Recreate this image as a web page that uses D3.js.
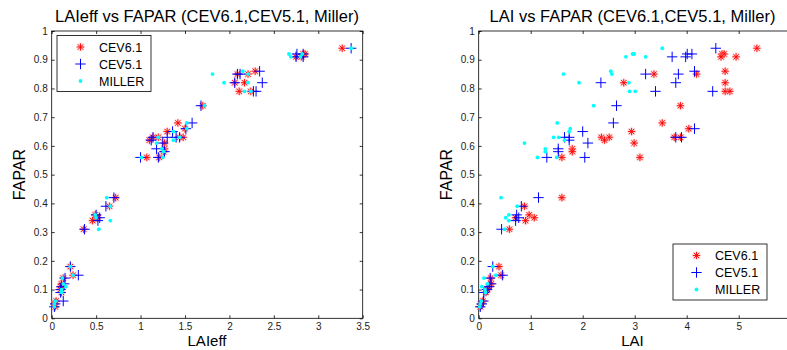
<!DOCTYPE html>
<html>
<head>
<meta charset="utf-8">
<script src="https://cdn.jsdelivr.net/npm/d3@7"></script>
<style>
  body { margin: 0; background: #fff; }
  svg { display: block; font-family: "Liberation Sans", Arial, sans-serif; }
</style>
</head>
<body>
<div id="chart"></div>
<script>
// CEV6.1 (red stars)
const faparCev61  = [0.94, 0.92, 0.92, 0.91, 0.91, 0.86, 0.85, 0.85, 0.82, 0.82, 0.79, 0.79, 0.74, 0.68, 0.66, 0.65, 0.63, 0.63, 0.63, 0.63, 0.62, 0.61, 0.59, 0.58, 0.56, 0.56, 0.42, 0.39, 0.36, 0.35, 0.35, 0.34, 0.31, 0.18, 0.15, 0.14, 0.12, 0.11, 0.10, 0.09, 0.06, 0.05, 0.04];
const laieffCev61 = [3.27, 2.83, 2.85, 2.75, 2.81, 2.29, 2.09, 2.21, 2.17, 2.06, 2.11, 2.24, 1.70, 1.42, 1.50, 1.30, 1.48, 1.44, 1.14, 1.20, 1.10, 1.27, 1.27, 1.26, 1.07, 1.21, 0.72, 0.65, 0.49, 0.52, 0.50, 0.46, 0.36, 0.21, 0.24, 0.13, 0.11, 0.10, 0.10, 0.11, 0.05, 0.03, 0.04];
const laiCev61    = [5.35, 4.68, 4.72, 4.66, 4.95, 4.74, 4.19, 3.37, 4.74, 2.79, 4.74, 4.83, 3.88, 3.53, 4.04, 2.94, 2.36, 2.51, 3.76, 3.88, 2.42, 2.99, 1.80, 1.80, 1.60, 3.10, 1.60, 0.88, 0.97, 0.71, 1.07, 0.90, 0.59, 0.39, 0.43, 0.23, 0.24, 0.19, 0.17, 0.14, 0.08, 0.04, 0.03];

// CEV5.1 (blue plus)
const faparCev51  = [0.94, 0.92, 0.92, 0.91, 0.91, 0.86, 0.85, 0.85, 0.82, 0.82, 0.79, 0.79, 0.74, 0.68, 0.66, 0.65, 0.63, 0.63, 0.63, 0.63, 0.62, 0.61, 0.59, 0.58, 0.56, 0.56, 0.42, 0.39, 0.36, 0.35, 0.34, 0.31, 0.18, 0.15, 0.14, 0.12, 0.11, 0.10, 0.09, 0.06, 0.05, 0.04];
const laieffCev51 = [3.37, 2.76, 2.83, 2.75, 2.83, 2.34, 2.09, 2.12, 2.37, 2.06, 2.27, 2.30, 1.68, 1.58, 1.51, 1.36, 1.44, 1.14, 1.40, 1.30, 1.12, 1.25, 1.18, 1.27, 1.00, 1.20, 0.70, 0.61, 0.50, 0.54, 0.52, 0.37, 0.21, 0.30, 0.15, 0.14, 0.11, 0.10, 0.10, 0.13, 0.04, 0.03];
const laiCev51    = [4.56, 4.01, 4.10, 3.72, 3.98, 4.15, 3.21, 3.84, 3.79, 2.35, 3.40, 4.50, 2.65, 2.59, 4.15, 2.00, 1.65, 1.74, 3.79, 3.90, 1.74, 2.10, 1.53, 1.53, 1.31, 2.04, 1.15, 0.82, 0.73, 0.77, 0.71, 0.44, 0.27, 0.46, 0.22, 0.24, 0.20, 0.16, 0.10, 0.09, 0.06, 0.03];

// MILLER (cyan dots)
const faparMiller  = [0.94, 0.92, 0.92, 0.91, 0.91, 0.86, 0.85, 0.85, 0.82, 0.82, 0.79, 0.79, 0.74, 0.68, 0.66, 0.65, 0.63, 0.63, 0.62, 0.61, 0.59, 0.58, 0.56, 0.56, 0.42, 0.39, 0.36, 0.35, 0.34, 0.31, 0.18, 0.15, 0.14, 0.12, 0.11, 0.10, 0.09, 0.06, 0.05, 0.04];
const laieffMiller = [3.37, 2.67, 2.82, 2.69, 2.80, 2.15, 2.21, 1.81, 2.21, 1.94, 2.17, 2.24, 1.72, 1.52, 1.52, 1.37, 1.44, 1.20, 1.37, 1.18, 1.24, 1.26, 1.01, 1.25, 0.62, 0.66, 0.49, 0.50, 0.66, 0.53, 0.21, 0.24, 0.12, 0.13, 0.16, 0.11, 0.11, 0.04, 0.03, 0.03];
const laiMiller    = [3.53, 2.96, 2.99, 2.83, 3.21, 2.54, 2.56, 1.63, 2.89, 1.93, 2.90, 3.01, 2.21, 1.51, 1.76, 1.74, 1.44, 1.54, 1.65, 0.88, 1.28, 1.28, 1.13, 1.50, 0.43, 0.74, 0.58, 0.52, 0.58, 0.50, 0.27, 0.33, 0.10, 0.17, 0.06, 0.12, 0.13, 0.05, 0.03, 0.02];

const seriesNames = ["CEV6.1", "CEV5.1", "MILLER"];
const faparTicks = d3.range(0, 1.0001, 0.1);
const laieffTicks = [0, 0.5, 1, 1.5, 2, 2.5, 3, 3.5];
const laiTicks = [0, 1, 2, 3, 4, 5];

const width = 787, height = 350;

const svg = d3.select("#chart").append("svg")
  .attr("width", width)
  .attr("height", height);

// marker paths (MATLAB style '*', '+', '.')
function starPath(r) {
  const d = r * 0.72;
  return `M${-r},0L${r},0M0,${-r}L0,${r}M${-d},${-d}L${d},${d}M${-d},${d}L${d},${-d}`;
}
function plusPath(r) {
  return `M${-r},0L${r},0M0,${-r}L0,${r}`;
}

function drawMarkers(g, kind, pts) {
  const sel = g.append("g").selectAll("g")
    .data(pts)
    .enter().append("g")
    .attr("transform", d => `translate(${d[0]},${d[1]})`);
  if (kind === "star") {
    sel.append("path").attr("d", starPath(4.3))
      .attr("fill", "none").attr("stroke", "#ff9a9a").attr("stroke-width", 2).attr("stroke-opacity", 0.5);
    sel.append("path").attr("d", starPath(3.6))
      .attr("fill", "none").attr("stroke", "#ff0000").attr("stroke-width", 0.9);
  } else if (kind === "plus") {
    sel.append("path").attr("d", plusPath(5.2))
      .attr("fill", "none").attr("stroke", "#0000ff").attr("stroke-width", 1);
  } else {
    sel.append("circle").attr("r", 1.9).attr("fill", "#00ffff");
  }
}

function drawPanel(opts) {
  const x = d3.scaleLinear().domain(opts.xDomain).range(opts.xRange);
  const y = d3.scaleLinear().domain([0, 1]).range([318.3, 31]);
  const g = svg.append("g");

  // frame
  g.append("rect")
    .attr("x", opts.xRange[0]).attr("y", 31)
    .attr("width", opts.xRange[1] - opts.xRange[0]).attr("height", 318.3 - 31)
    .attr("fill", "none").attr("stroke", "#000").attr("stroke-width", 0.8);

  // axes with inward ticks
  const fmt = d => String(+d.toFixed(2));
  const axes = [
    g.append("g").attr("transform", "translate(0,318.3)")
      .call(d3.axisBottom(x).tickValues(opts.xTicks).tickSizeInner(-3).tickSizeOuter(0).tickPadding(5).tickFormat(fmt)),
    g.append("g").attr("transform", "translate(0,31)")
      .call(d3.axisTop(x).tickValues(opts.xTicks).tickSizeInner(-3).tickSizeOuter(0).tickFormat("")),
    g.append("g").attr("transform", `translate(${opts.xRange[0]},0)`)
      .call(d3.axisLeft(y).tickValues(faparTicks).tickSizeInner(-3).tickSizeOuter(0).tickPadding(4).tickFormat(fmt)),
    g.append("g").attr("transform", `translate(${opts.xRange[1]},0)`)
      .call(d3.axisRight(y).tickValues(faparTicks).tickSizeInner(-3).tickSizeOuter(0).tickFormat(""))
  ];
  axes.forEach(a => {
    a.select(".domain").remove();
    a.selectAll("line").attr("stroke", "#000").attr("stroke-width", 0.8);
    a.selectAll("text").attr("fill", "#222").style("font-size", "10px");
  });

  // points
  const pts = (xs, ys) => xs.map((v, i) => [x(v), y(ys[i])]);
  drawMarkers(g, "star", pts(opts.xs[0], faparCev61));
  drawMarkers(g, "plus", pts(opts.xs[1], faparCev51));
  drawMarkers(g, "dot", pts(opts.xs[2], faparMiller));

  // title and labels
  const cx = opts.titleX;
  svg.append("text").attr("x", cx).attr("y", 22).attr("text-anchor", "middle")
    .style("font-size", "16.5px").attr("fill", "#000").text(opts.title);
  svg.append("text").attr("x", cx).attr("y", 346).attr("text-anchor", "middle")
    .style("font-size", "15px").attr("fill", "#000").text(opts.xLabel);
  svg.append("text")
    .attr("transform", `translate(${opts.xRange[0] - 27},174.5) rotate(-90)`)
    .attr("text-anchor", "middle")
    .style("font-size", "16px").attr("fill", "#000").text("FAPAR");

  // legend
  const lg = svg.append("g").attr("transform", `translate(${opts.legend[0]},${opts.legend[1]})`);
  lg.append("rect").attr("width", 94).attr("height", 56)
    .attr("fill", "#fff").attr("stroke", "#000").attr("stroke-width", 0.8);
  const kinds = ["star", "plus", "dot"];
  seriesNames.forEach((name, i) => {
    const rowY = 11.5 + i * 17;
    drawMarkers(lg, kinds[i], [[23.5, rowY]]);
    lg.append("text").attr("x", 42).attr("y", rowY).attr("dy", "0.36em")
      .style("font-size", "12.5px").attr("fill", "#000").text(name);
  });
}

drawPanel({
  xDomain: [0, 3.5], xRange: [51.7, 362.7], xTicks: laieffTicks,
  xs: [laieffCev61, laieffCev51, laieffMiller],
  title: "LAIeff vs FAPAR (CEV6.1,CEV5.1, Miller)", xLabel: "LAIeff", titleX: 207,
  legend: [57, 35.5]
});

drawPanel({
  xDomain: [0, 6], xRange: [478.7, 790.7], xTicks: laiTicks,
  xs: [laiCev61, laiCev51, laiMiller],
  title: "LAI vs FAPAR (CEV6.1,CEV5.1, Miller)", xLabel: "LAI", titleX: 632.5,
  legend: [673, 244]
});
</script>
</body>
</html>
